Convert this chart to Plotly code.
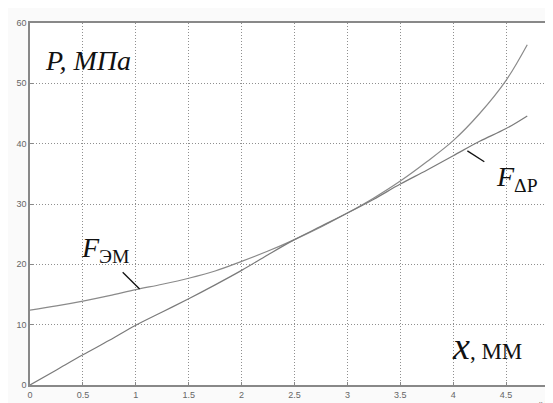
import plotly.graph_objects as go

x_vals = [0, 0.25, 0.5, 0.75, 1.0, 1.25, 1.5, 1.75, 2.0, 2.25, 2.5, 2.75, 3.0, 3.25, 3.5, 3.75, 4.0, 4.25, 4.5, 4.7]
f_em = [12.4, 13.1, 13.9, 14.8, 15.8, 16.7, 17.7, 18.9, 20.5, 22.2, 24.1, 26.2, 28.5, 31.0, 33.8, 37.0, 40.5, 45.0, 50.5, 56.4]
f_dp = [0, 2.5, 5.0, 7.4, 9.9, 12.1, 14.3, 16.6, 19.0, 21.6, 24.1, 26.3, 28.5, 30.8, 33.3, 35.6, 38.0, 40.4, 42.5, 44.6]
x_ticks = [0, 0.5, 1, 1.5, 2, 2.5, 3, 3.5, 4, 4.5, 5]
x_tick_text = ["0", "0.5", "1", "1.5", "2", "2.5", "3", "3.5", "4", "4.5", "5"]
y_ticks = [0, 10, 20, 30, 40, 50, 60]

fig = go.Figure()
fig.add_trace(go.Scatter(x=x_vals, y=f_em, mode="lines", line=dict(color="#8a8a8a", width=1.2, shape="spline"), showlegend=False))
fig.add_trace(go.Scatter(x=x_vals, y=f_dp, mode="lines", line=dict(color="#7a7a7a", width=1.2, shape="spline"), showlegend=False))

serif = "Times New Roman, FreeSerif, serif"
ann = [
    dict(x=0.12, y=53.8, text="P, МПа", font=dict(size=28, family=serif, color="#111", style="italic"), xanchor="left", yanchor="middle"),
    dict(x=0.46, y=22.4, text="<i>F</i><sub>ЭМ</sub>", font=dict(size=28, family=serif, color="#111"), xanchor="left", yanchor="middle"),
    dict(x=4.39, y=34.3, text="<i>F</i><sub>ΔP</sub>", font=dict(size=28, family=serif, color="#111"), xanchor="left", yanchor="middle"),
    dict(x=3.97, y=6.4, text="<span style='font-size:38px;font-style:italic'>x</span>, ММ", font=dict(size=23, family=serif, color="#111"), xanchor="left", yanchor="middle"),
    dict(x=1.0, xref="paper", y=-0.05, yref="paper", text="x 10<sup>-3</sup>", font=dict(size=7, family="Arial", color="#666"), xanchor="right", yanchor="middle"),
]
for a in ann:
    a.setdefault("xref", "x")
    a.setdefault("yref", "y")
    a["showarrow"] = False
    fig.add_annotation(**a)

fig.add_shape(type="line", x0=0.876, y0=18.7, x1=1.036, y1=15.9, line=dict(color="#111", width=1.3))
fig.add_shape(type="line", x0=4.134, y0=38.8, x1=4.294, y1=37.0, line=dict(color="#111", width=1.3))

axis_common = dict(showgrid=True, gridcolor="#8f8f8f", gridwidth=1, griddash="1px,2px", zeroline=False,
                   showline=True, linecolor="#888", linewidth=1.5, mirror=True,
                   ticks="inside", ticklen=3, tickcolor="#888",
                   tickfont=dict(family="Arial", size=9, color="#666"))
fig.update_xaxes(range=[0, 5], tickvals=x_ticks, ticktext=x_tick_text, **axis_common)
fig.update_yaxes(range=[0, 60], tickvals=y_ticks, **axis_common)

fig.update_layout(width=553, height=403, margin=dict(l=22, r=0, t=15, b=26),
                  paper_bgcolor="#fafafa", plot_bgcolor="white")
fig.write_html("out.html")
